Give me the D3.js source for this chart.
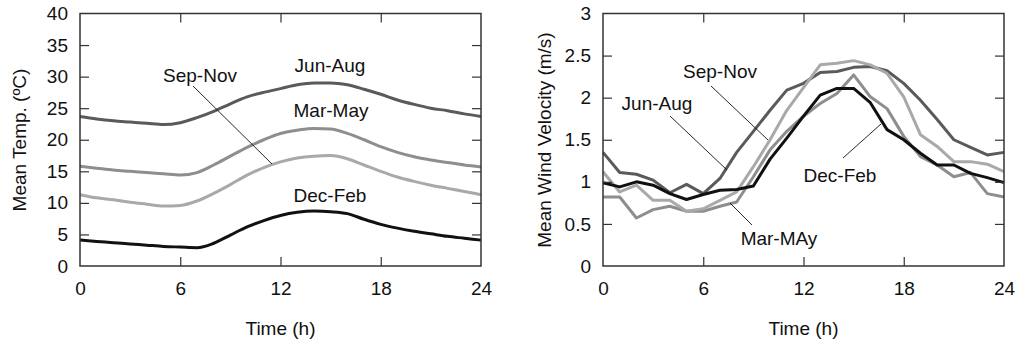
<!DOCTYPE html>
<html>
<head>
<meta charset="utf-8">
<script src="https://cdn.jsdelivr.net/npm/d3@7"></script>
<style>
  body { margin: 0; background: #fff; }
  svg { font-family: "Liberation Sans", Arial, sans-serif; }
</style>
</head>
<body>
<div id="chart"></div>
<script>
// hours 0..24
const hours = d3.range(0, 25);
const xTicks = [0, 6, 12, 18, 24];

// left panel: mean temperature (degC)
const tempTicks = [0, 5, 10, 15, 20, 25, 30, 35, 40];
const tempJunAug = [23.7, 23.3, 23.0, 22.8, 22.6, 22.4, 22.7, 23.5, 24.5, 25.7, 26.8, 27.5, 28.1, 28.7, 29.0, 29.0, 28.7, 28.0, 27.2, 26.3, 25.6, 25.0, 24.6, 24.1, 23.7];
const tempMarMay = [15.8, 15.5, 15.2, 15.0, 14.8, 14.6, 14.4, 14.8, 16.0, 17.4, 18.8, 20.0, 21.0, 21.5, 21.8, 21.7, 21.0, 20.0, 18.9, 18.0, 17.3, 16.8, 16.4, 16.0, 15.7];
const tempSepNov = [11.3, 10.8, 10.5, 10.1, 9.8, 9.5, 9.6, 10.3, 11.5, 12.9, 14.4, 15.6, 16.5, 17.1, 17.4, 17.5, 17.0, 16.0, 15.0, 14.1, 13.4, 12.8, 12.3, 11.8, 11.3];
const tempDecFeb = [4.1, 3.9, 3.7, 3.5, 3.3, 3.1, 3.0, 2.9, 3.6, 4.9, 6.2, 7.2, 8.0, 8.5, 8.7, 8.6, 8.3, 7.4, 6.6, 6.0, 5.5, 5.1, 4.7, 4.4, 4.1];

// right panel: mean wind velocity (m/s)
const windTicks = [0, 0.5, 1, 1.5, 2, 2.5, 3];
const windJunAug = [1.35, 1.11, 1.09, 1.02, 0.87, 0.97, 0.86, 1.04, 1.35, 1.6, 1.85, 2.09, 2.17, 2.3, 2.31, 2.36, 2.37, 2.32, 2.17, 1.97, 1.74, 1.5, 1.41, 1.32, 1.35];
const windMarMay = [0.82, 0.82, 0.57, 0.67, 0.71, 0.65, 0.65, 0.71, 0.76, 1.06, 1.38, 1.6, 1.78, 1.93, 2.05, 2.27, 2.01, 1.87, 1.54, 1.3, 1.2, 1.06, 1.11, 0.86, 0.82];
const windSepNov = [1.12, 0.88, 0.96, 0.78, 0.78, 0.65, 0.68, 0.78, 0.88, 1.18, 1.5, 1.85, 2.12, 2.39, 2.41, 2.44, 2.39, 2.29, 2.01, 1.56, 1.42, 1.24, 1.24, 1.21, 1.12];
const windDecFeb = [0.99, 0.94, 1.0, 0.96, 0.86, 0.79, 0.85, 0.9, 0.91, 0.95, 1.27, 1.52, 1.78, 2.03, 2.11, 2.11, 1.94, 1.62, 1.5, 1.34, 1.2, 1.2, 1.1, 1.05, 0.99];

const colors = { "Jun-Aug": "#5a5a5a", "Mar-May": "#8e8e8e", "Sep-Nov": "#a9a9a9", "Dec-Feb": "#111111" };
const fontSize = 19;

const svg = d3.select("#chart").append("svg")
  .attr("width", 1018)
  .attr("height", 343);

function panel(opts) {
  const g = svg.append("g");
  const x = d3.scaleLinear().domain([0, 24]).range([opts.left, opts.right]);
  const y = d3.scaleLinear().domain(opts.yDomain).range([266, 13.5]);

  // series
  const line = d3.line()
    .x((d, i) => x(hours[i]))
    .y(d => y(d))
    .curve(opts.curve);
  opts.series.forEach(s => {
    g.append("path")
      .attr("d", line(s.values))
      .attr("fill", "none")
      .attr("stroke", colors[s.name])
      .attr("stroke-width", 3)
      .attr("stroke-linejoin", "round");
  });

  // axes, ticks pointing inwards
  const inner = xTicks.slice(1, -1);
  const yInner = opts.yTicks.slice(1, -1);
  g.append("g").attr("transform", "translate(0,266)")
    .call(d3.axisBottom(x).tickValues(xTicks).tickSize(0).tickPadding(15.5))
    .call(a => a.select(".domain").remove());
  g.append("g").attr("transform", "translate(0,266)")
    .call(d3.axisBottom(x).tickValues(inner).tickSize(-9).tickFormat(""));
  g.append("g").attr("transform", "translate(0,13.5)")
    .call(d3.axisTop(x).tickValues(inner).tickSize(-9).tickFormat(""));
  g.append("g").attr("transform", `translate(${opts.left},0)`)
    .call(d3.axisLeft(y).tickValues(opts.yTicks).tickSize(0).tickPadding(12)
      .tickFormat(d => String(d)))
    .call(a => a.select(".domain").remove());
  g.append("g").attr("transform", `translate(${opts.left},0)`)
    .call(d3.axisLeft(y).tickValues(yInner).tickSize(-9).tickFormat(""));
  g.append("g").attr("transform", `translate(${opts.right},0)`)
    .call(d3.axisRight(y).tickValues(yInner).tickSize(-9).tickFormat(""));

  g.selectAll(".domain").remove();
  g.selectAll(".tick line").attr("stroke", "#333").attr("stroke-width", 1.2);
  g.selectAll(".tick text").attr("font-size", fontSize).attr("fill", "#111")
    .attr("font-family", "Liberation Sans, Arial, sans-serif");

  // frame
  g.append("rect")
    .attr("x", opts.left).attr("y", 13.5)
    .attr("width", opts.right - opts.left).attr("height", 266 - 13.5)
    .attr("fill", "none").attr("stroke", "#333").attr("stroke-width", 1.5);

  // axis titles
  g.append("text")
    .attr("x", (opts.left + opts.right) / 2).attr("y", 335)
    .attr("text-anchor", "middle").attr("font-size", fontSize).attr("fill", "#111")
    .text("Time (h)");
  g.append("text")
    .attr("transform", `translate(${opts.titleX},140) rotate(-90)`)
    .attr("text-anchor", "middle").attr("font-size", fontSize).attr("fill", "#111")
    .text(opts.yTitle);

  // series labels and leader lines
  opts.labels.forEach(l => {
    g.append("text")
      .attr("x", l.x).attr("y", l.y)
      .attr("text-anchor", "middle").attr("font-size", fontSize).attr("fill", "#111")
      .text(l.text);
    if (l.lead) {
      g.append("line")
        .attr("x1", l.lead[0]).attr("y1", l.lead[1])
        .attr("x2", l.lead[2]).attr("y2", l.lead[3])
        .attr("stroke", "#111").attr("stroke-width", 0.9);
    }
  });
}

panel({
  left: 80, right: 481,
  yDomain: [0, 40], yTicks: tempTicks,
  yTitle: "Mean Temp. (ºC)", titleX: 26,
  curve: d3.curveMonotoneX,
  series: [
    { name: "Jun-Aug", values: tempJunAug },
    { name: "Mar-May", values: tempMarMay },
    { name: "Sep-Nov", values: tempSepNov },
    { name: "Dec-Feb", values: tempDecFeb }
  ],
  labels: [
    { text: "Jun-Aug", x: 330, y: 72 },
    { text: "Mar-May", x: 331, y: 117 },
    { text: "Dec-Feb", x: 330, y: 202 },
    { text: "Sep-Nov", x: 200, y: 82, lead: [193, 86, 272, 164] }
  ]
});

panel({
  left: 603, right: 1004,
  yDomain: [0, 3], yTicks: windTicks,
  yTitle: "Mean Wind Velocity (m/s)", titleX: 551,
  curve: d3.curveLinear,
  series: [
    { name: "Jun-Aug", values: windJunAug },
    { name: "Mar-May", values: windMarMay },
    { name: "Sep-Nov", values: windSepNov },
    { name: "Dec-Feb", values: windDecFeb }
  ],
  labels: [
    { text: "Sep-Nov", x: 720, y: 78 },
    { text: "Jun-Aug", x: 657, y: 110 },
    { text: "Dec-Feb", x: 840, y: 182 },
    { text: "Mar-MAy", x: 779, y: 245 }
  ].map((l, i) => Object.assign(l, { lead: [[711, 86, 768, 140], [670, 116, 727, 170], [843, 158, 881, 124], [752, 225, 730, 203]][i] }))
});
</script>
</body>
</html>
